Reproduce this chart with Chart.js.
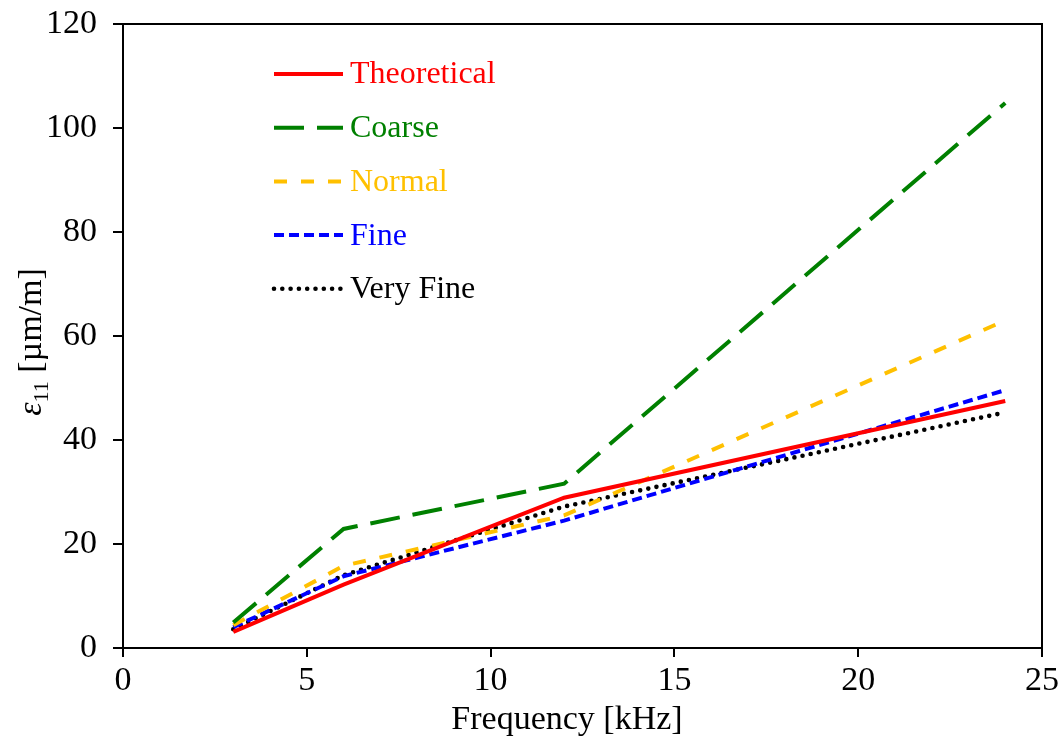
<!DOCTYPE html>
<html>
<head>
<meta charset="utf-8">
<script src="https://cdn.jsdelivr.net/npm/chart.js@4/dist/chart.umd.min.js"></script>
<style>
  body { margin: 0; background: #fff; }
  #wrap { width: 1063px; height: 740px; position: relative; }
</style>
</head>
<body>
<div id="wrap"><canvas id="strain-chart"></canvas></div>
<script>
// frequency points (kHz) and strain per mesh (µm/m)
const frequencies = [3, 6, 12, 24];
const theoretical = [3.1, 12.2, 28.9, 47.5];
const coarse = [4.9, 22.9, 31.6, 104.8];
const normal = [4.4, 15.8, 25.5, 63.0];
const fine = [4.0, 13.8, 24.5, 49.6];
const veryFine = [3.6, 14.0, 27.2, 45.3];

const xTicks = [0, 5, 10, 15, 20, 25];
const yTicks = [0, 20, 40, 60, 80, 100, 120];

const FONT = "'Liberation Serif', 'Times New Roman', serif";

const series = [
  { label: "Theoretical", values: theoretical, color: "#ff0000", dash: [], cap: "butt", width: 4 },
  { label: "Coarse", values: coarse, color: "#008000", dash: [30, 13], cap: "butt", width: 4 },
  { label: "Normal", values: normal, color: "#ffc000", dash: [13, 14], cap: "butt", width: 4 },
  { label: "Fine", values: fine, color: "#0000ff", dash: [10, 5], cap: "butt", width: 4 },
  { label: "Very Fine", values: veryFine, color: "#000000", dash: [0, 8.3], cap: "round", width: 4.6 },
];

function toPoints(values) {
  return frequencies.map((f, i) => ({ x: f, y: values[i] }));
}

// frame, in-plot legend and axis titles
const decorations = {
  id: "decorations",
  afterDatasetsDraw(chart) {
    const ctx = chart.ctx;
    const area = chart.chartArea;

    ctx.save();
    ctx.strokeStyle = "#000";
    ctx.lineWidth = 2;
    ctx.strokeRect(area.left, area.top, area.right - area.left, area.bottom - area.top);

    // legend
    ctx.font = "32px " + FONT;
    ctx.textBaseline = "middle";
    series.forEach((s, i) => {
      const y = 74 + i * 53.7;
      ctx.beginPath();
      ctx.strokeStyle = s.color;
      ctx.lineWidth = s.width;
      ctx.lineCap = s.cap;
      ctx.setLineDash(s.dash);
      ctx.moveTo(274, y);
      ctx.lineTo(343, y);
      ctx.stroke();
      ctx.setLineDash([]);
      ctx.fillStyle = s.color;
      ctx.fillText(s.label, 350, y + 1);
    });

    // x title
    ctx.fillStyle = "#000";
    ctx.font = "34px " + FONT;
    ctx.textAlign = "center";
    ctx.textBaseline = "alphabetic";
    ctx.fillText("Frequency [kHz]", 567, 729);

    // y title with subscript
    ctx.translate(41, 342);
    ctx.rotate(-Math.PI / 2);
    const main = "ε";
    const sub = "11";
    const rest = " [µm/m]";
    ctx.font = "italic 34px " + FONT;
    const w1 = ctx.measureText(main).width;
    ctx.font = "22px " + FONT;
    const w2 = ctx.measureText(sub).width;
    ctx.font = "34px " + FONT;
    const w3 = ctx.measureText(rest).width;
    let x = -(w1 + w2 + w3) / 2;
    ctx.textAlign = "left";
    ctx.font = "italic 34px " + FONT;
    ctx.fillText(main, x, 0);
    x += w1;
    ctx.font = "22px " + FONT;
    ctx.fillText(sub, x, 7);
    x += w2;
    ctx.font = "34px " + FONT;
    ctx.fillText(rest, x, 0);
    ctx.restore();
  },
};

const ctx = document.getElementById("strain-chart").getContext("2d");
new Chart(ctx, {
  type: "line",
  data: {
    datasets: series.map((s) => ({
      label: s.label,
      data: toPoints(s.values),
      borderColor: s.color,
      borderWidth: s.width,
      borderDash: s.dash,
      borderCapStyle: s.cap,
      pointRadius: 0,
      fill: false,
      tension: 0,
    })),
  },
  options: {
    responsive: true,
    maintainAspectRatio: false,
    animation: false,
    layout: { padding: { top: 24, right: 21, left: 0, bottom: 0 } },
    plugins: {
      legend: { display: false },
      tooltip: { enabled: false },
    },
    scales: {
      x: {
        type: "linear",
        min: 0,
        max: 25,
        afterFit: (scale) => {
          scale.height = 92;
          scale.paddingLeft = 0;
          scale.paddingRight = 0;
        },
        afterBuildTicks: (scale) => { scale.ticks = xTicks.map((v) => ({ value: v })); },
        border: { display: false },
        grid: { drawOnChartArea: false, drawTicks: true, tickLength: 9, color: "#000", lineWidth: 2 },
        ticks: { color: "#000", font: { family: FONT, size: 34 }, padding: 4, maxRotation: 0 },
      },
      y: {
        type: "linear",
        min: 0,
        max: 120,
        afterFit: (scale) => {
          scale.width = 123;
          scale.paddingTop = 0;
          scale.paddingBottom = 0;
        },
        afterBuildTicks: (scale) => { scale.ticks = yTicks.map((v) => ({ value: v })); },
        border: { display: false },
        grid: { drawOnChartArea: false, drawTicks: true, tickLength: 10, color: "#000", lineWidth: 2 },
        ticks: { color: "#000", font: { family: FONT, size: 34 }, padding: 16 },
      },
    },
  },
  plugins: [decorations],
});
</script>
</body>
</html>
